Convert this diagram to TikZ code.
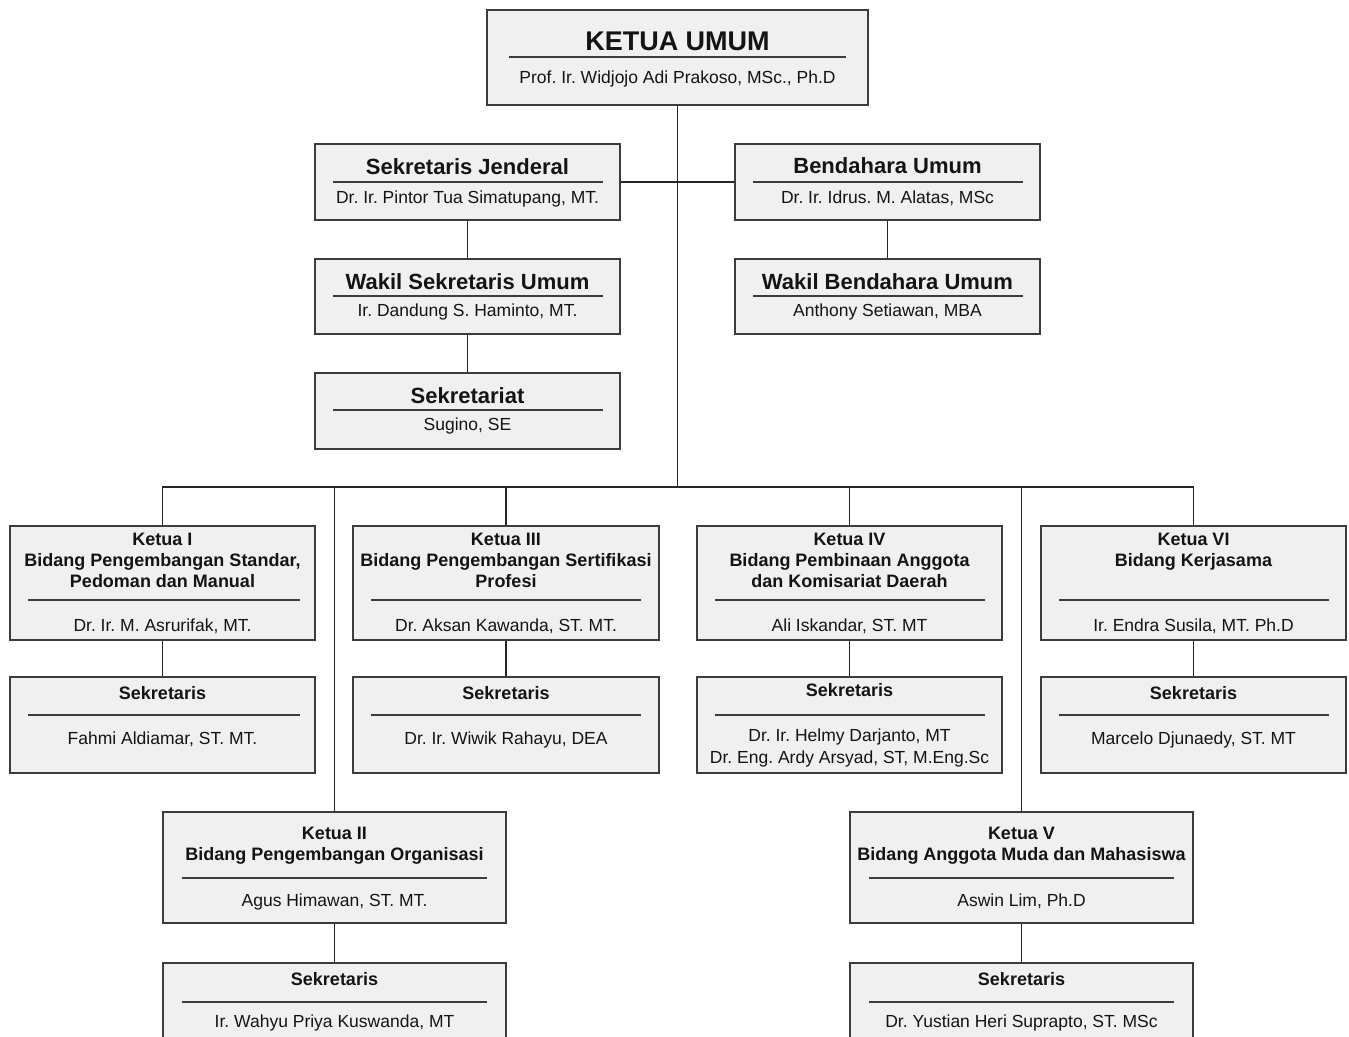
\documentclass[tikz,border=0pt]{standalone}
\usepackage{fontspec}
\setmainfont{Liberation Sans}
\frenchspacing
\newlength{\du}
\setlength{\du}{1pt}
\definecolor{boxfill}{RGB}{240,240,240}
\definecolor{boxline}{RGB}{60,60,60}
\definecolor{textcol}{RGB}{20,20,20}
\tikzset{
  orgbox/.style={rectangle, draw=boxline, fill=boxfill, line width=1.6\du, inner sep=0pt},
  sepline/.style={draw=boxline, line width=1.6\du},
  link/.style={draw=black!85, line width=1.5\du},
  titletext/.style={anchor=base, inner sep=0pt, text=textcol, font=\fontsize{27}{32}\selectfont\bfseries},
  headtext/.style={anchor=base, inner sep=0pt, text=textcol, font=\fontsize{22}{26}\selectfont\bfseries},
  ketuatext/.style={anchor=center, align=center, inner sep=0pt, text=textcol, font=\fontsize{18}{21}\selectfont\bfseries},
  sektext/.style={anchor=base, inner sep=0pt, text=textcol, font=\fontsize{18}{21}\selectfont\bfseries},
  nametext/.style={anchor=base, inner sep=0pt, text=textcol, font=\fontsize{17.5}{22}\selectfont},
  namelines/.style={anchor=center, align=center, inner sep=0pt, text=textcol, font=\fontsize{17.5}{22}\selectfont}
}

\begin{document}
\begin{tikzpicture}
\pgftransformxscale{1.000000}
\pgftransformyscale{-1.000000}
\useasboundingbox (0\du,0\du) rectangle (1349\du,1036\du);
\clip (0\du,0\du) rectangle (1349\du,1036\du);
\fill[white] (0\du,0\du) rectangle (1349\du,1036\du);
% ketua umum
\node[orgbox, minimum width=381\du, minimum height=95\du] (umum) at (677.5\du,57.5\du) {};
\draw[sepline] (509\du,57\du)--(846\du,57\du);
\node[titletext] (umum-t) at (677.5\du,50\du) {KETUA UMUM};
\node[nametext] (umum-n) at (677.5\du,83\du) {Prof. Ir. Widjojo Adi Prakoso, MSc., Ph.D};
% sekretaris jenderal
\node[orgbox, minimum width=305\du, minimum height=76\du] (sekjen) at (467.5\du,182\du) {};
\draw[sepline] (333\du,182\du)--(603\du,182\du);
\node[headtext] (sekjen-t) at (467.5\du,174\du) {Sekretaris Jenderal};
\node[nametext] (sekjen-n) at (467.5\du,203\du) {Dr. Ir. Pintor Tua Simatupang, MT.};
% bendahara umum
\node[orgbox, minimum width=305\du, minimum height=76\du] (bendum) at (887.5\du,182\du) {};
\draw[sepline] (753\du,182\du)--(1023\du,182\du);
\node[headtext] (bendum-t) at (887.5\du,173\du) {Bendahara Umum};
\node[nametext] (bendum-n) at (887.5\du,203\du) {Dr. Ir. Idrus. M. Alatas, MSc};
% wakil sekretaris umum
\node[orgbox, minimum width=305\du, minimum height=75\du] (wasekum) at (467.5\du,296.5\du) {};
\draw[sepline] (333\du,296\du)--(603\du,296\du);
\node[headtext] (wasekum-t) at (467.5\du,289\du) {Wakil Sekretaris Umum};
\node[nametext] (wasekum-n) at (467.5\du,316\du) {Ir. Dandung S. Haminto, MT.};
% wakil bendahara umum
\node[orgbox, minimum width=305\du, minimum height=75\du] (wabendum) at (887.5\du,296.5\du) {};
\draw[sepline] (753\du,296\du)--(1023\du,296\du);
\node[headtext] (wabendum-t) at (887.5\du,289\du) {Wakil Bendahara Umum};
\node[nametext] (wabendum-n) at (887.5\du,316\du) {Anthony Setiawan, MBA};
% sekretariat
\node[orgbox, minimum width=305\du, minimum height=76\du] (sekret) at (467.5\du,411\du) {};
\draw[sepline] (333\du,410\du)--(603\du,410\du);
\node[headtext] (sekret-t) at (467.5\du,403\du) {Sekretariat};
\node[nametext] (sekret-n) at (467.5\du,430\du) {Sugino, SE};
% ketua I
\node[orgbox, minimum width=305\du, minimum height=114\du] (k1) at (162.5\du,583\du) {};
\draw[sepline] (28\du,600\du)--(300\du,600\du);
\node[ketuatext] (k1-t) at (162.5\du,560\du) {Ketua I\\Bidang Pengembangan Standar,\\Pedoman dan Manual};
\node[nametext] (k1-n) at (162.5\du,631\du) {Dr. Ir. M. Asrurifak, MT.};
\node[orgbox, minimum width=305\du, minimum height=96\du] (s1) at (162.5\du,725\du) {};
\draw[sepline] (28\du,715\du)--(300\du,715\du);
\node[sektext] (s1-t) at (162.5\du,699.5\du) {Sekretaris};
\node[nametext] (s1-n) at (162.5\du,744\du) {Fahmi Aldiamar, ST. MT.};
% ketua III
\node[orgbox, minimum width=306\du, minimum height=114\du] (k3) at (506\du,583\du) {};
\draw[sepline] (371\du,600\du)--(641\du,600\du);
\node[ketuatext] (k3-t) at (506\du,560\du) {Ketua III\\Bidang Pengembangan Sertifikasi\\Profesi};
\node[nametext] (k3-n) at (506\du,631\du) {Dr. Aksan Kawanda, ST. MT.};
\node[orgbox, minimum width=306\du, minimum height=96\du] (s3) at (506\du,725\du) {};
\draw[sepline] (371\du,715\du)--(641\du,715\du);
\node[sektext] (s3-t) at (506\du,699.5\du) {Sekretaris};
\node[nametext] (s3-n) at (506\du,744\du) {Dr. Ir. Wiwik Rahayu, DEA};
% ketua IV
\node[orgbox, minimum width=305\du, minimum height=114\du] (k4) at (849.5\du,583\du) {};
\draw[sepline] (715\du,600\du)--(985\du,600\du);
\node[ketuatext] (k4-t) at (849.5\du,560\du) {Ketua IV\\Bidang Pembinaan Anggota\\dan Komisariat Daerah};
\node[nametext] (k4-n) at (849.5\du,631\du) {Ali Iskandar, ST. MT};
\node[orgbox, minimum width=305\du, minimum height=96\du] (s4) at (849.5\du,725\du) {};
\draw[sepline] (715\du,715\du)--(985\du,715\du);
\node[sektext] (s4-t) at (849.5\du,696.5\du) {Sekretaris};
\node[namelines] (s4-n) at (849.5\du,748\du) {Dr. Ir. Helmy Darjanto, MT\\Dr. Eng. Ardy Arsyad, ST, M.Eng.Sc};
% ketua VI
\node[orgbox, minimum width=305\du, minimum height=114\du] (k6) at (1193.5\du,583\du) {};
\draw[sepline] (1059\du,600\du)--(1329\du,600\du);
\node[ketuatext] (k6-t) at (1193.5\du,552\du) {Ketua VI\\Bidang Kerjasama};
\node[nametext] (k6-n) at (1193.5\du,631\du) {Ir. Endra Susila, MT. Ph.D};
\node[orgbox, minimum width=305\du, minimum height=96\du] (s6) at (1193.5\du,725\du) {};
\draw[sepline] (1059\du,715\du)--(1329\du,715\du);
\node[sektext] (s6-t) at (1193.5\du,699.5\du) {Sekretaris};
\node[nametext] (s6-n) at (1193.5\du,744\du) {Marcelo Djunaedy, ST. MT};
% ketua II
\node[orgbox, minimum width=343\du, minimum height=111\du] (k2) at (334.5\du,867.5\du) {};
\draw[sepline] (182\du,878\du)--(487\du,878\du);
\node[ketuatext] (k2-t) at (334.5\du,846\du) {Ketua II\\Bidang Pengembangan Organisasi};
\node[nametext] (k2-n) at (334.5\du,906\du) {Agus Himawan, ST. MT.};
\node[orgbox, minimum width=343\du, minimum height=96\du] (s2) at (334.5\du,1011\du) {};
\draw[sepline] (182\du,1002\du)--(487\du,1002\du);
\node[sektext] (s2-t) at (334.5\du,985.5\du) {Sekretaris};
\node[nametext] (s2-n) at (334.5\du,1027\du) {Ir. Wahyu Priya Kuswanda, MT};
% ketua V
\node[orgbox, minimum width=343\du, minimum height=111\du] (k5) at (1021.5\du,867.5\du) {};
\draw[sepline] (869\du,878\du)--(1174\du,878\du);
\node[ketuatext] (k5-t) at (1021.5\du,846\du) {Ketua V\\Bidang Anggota Muda dan Mahasiswa};
\node[nametext] (k5-n) at (1021.5\du,906\du) {Aswin Lim, Ph.D};
\node[orgbox, minimum width=343\du, minimum height=96\du] (s5) at (1021.5\du,1011\du) {};
\draw[sepline] (869\du,1002\du)--(1174\du,1002\du);
\node[sektext] (s5-t) at (1021.5\du,985.5\du) {Sekretaris};
\node[nametext] (s5-n) at (1021.5\du,1027\du) {Dr. Yustian Heri Suprapto, ST. MSc};
% connectors
\coordinate (bus) at (677.5\du,487\du);
\draw[link] (umum.south) -- (bus);
\draw[link] (sekjen.east) -- (bendum.west);
\draw[link] (sekjen.south) -- (wasekum.north);
\draw[link] (wasekum.south) -- (sekret.north);
\draw[link] (bendum.south) -- (wabendum.north);
\draw[link] (k1.north) |- (bus) -| (k6.north);
\draw[link] (k2.north) |- (bus);
\draw[link] (k3.north) |- (bus);
\draw[link] (k4.north) |- (bus);
\draw[link] (k5.north) |- (bus);
\draw[link] (k1.south) -- (s1.north);
\draw[link] (k3.south) -- (s3.north);
\draw[link] (k4.south) -- (s4.north);
\draw[link] (k6.south) -- (s6.north);
\draw[link] (k2.south) -- (s2.north);
\draw[link] (k5.south) -- (s5.north);
\end{tikzpicture}
\end{document}
